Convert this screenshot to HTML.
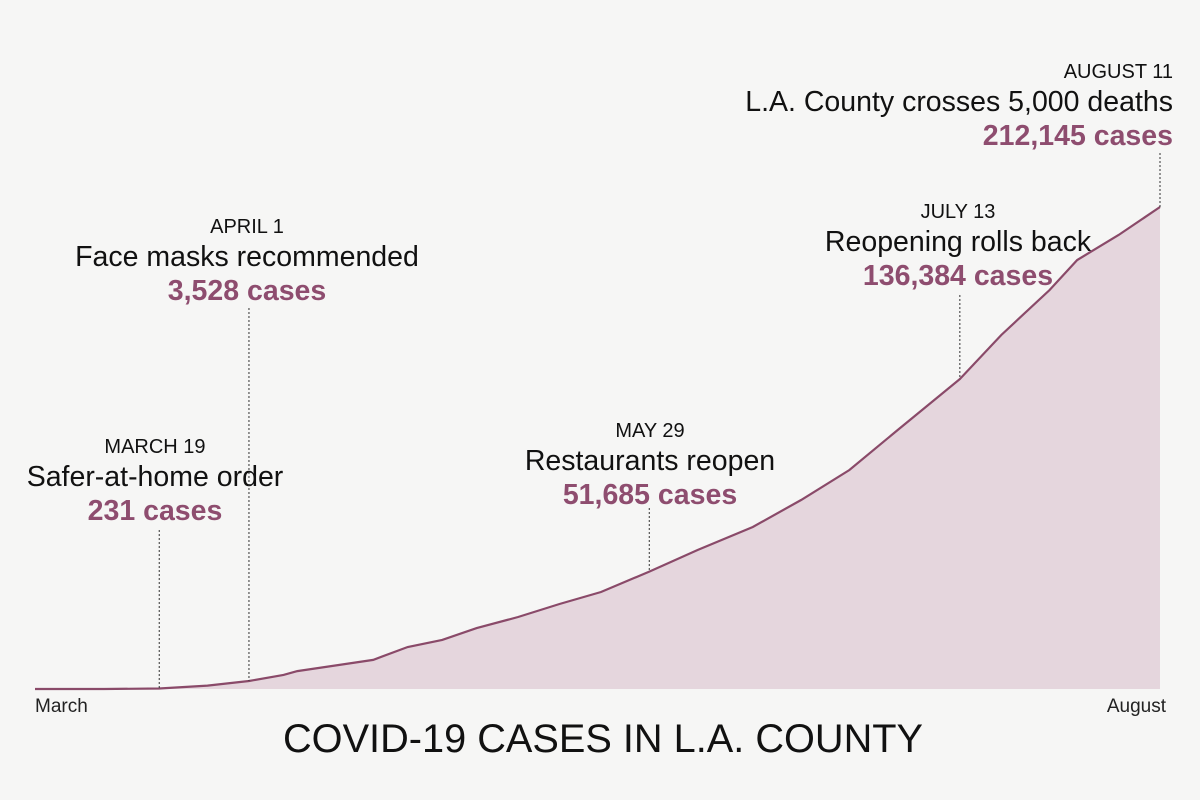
<!DOCTYPE html>
<html><head><meta charset="utf-8"><style>
html,body{margin:0;padding:0;background:#f6f6f5;}
svg{display:block;font-family:"Liberation Sans",sans-serif;}
.d{font-size:20px;fill:#111;}
.e{font-size:28.5px;fill:#111;}
.c{font-size:28.5px;fill:#8e4d6f;font-weight:bold;}
</style></head><body>
<svg id="chart" width="1200" height="800" viewBox="0 0 1200 800">
<rect width="1200" height="800" fill="#f6f6f5"/>
<path id="area" fill="#e5d6dd"/>
<path id="line" fill="none" stroke="#8a4a69" stroke-width="2.2"/>
<g id="ann"></g>
<text x="35" y="712" font-size="19" fill="#222">March</text>
<text x="1166" y="712" font-size="19" fill="#222" text-anchor="end">August</text>
<text x="603" y="752" font-size="40" fill="#111" text-anchor="middle" textLength="640" lengthAdjust="spacingAndGlyphs">COVID-19 CASES IN L.A. COUNTY</text>
</svg>
<script>
const days = [0,10,18,25,31,36,38,44,49,54,59,64,70,76,82,89,96,104,111,118,125,134,140,147,151,157,163];
const cases = [0,20,231,1500,3528,6200,7900,10560,12800,18500,21600,26800,31700,37400,42700,51685,61200,71300,83200,96400,114000,136384,155800,175600,188800,199800,212145];
const eventDays = [18,31,89,134,163];
const eventDates = ["MARCH 19","APRIL 1","MAY 29","JULY 13","AUGUST 11"];
const eventTitles = ["Safer-at-home order","Face masks recommended","Restaurants reopen","Reopening rolls back","L.A. County crosses 5,000 deaths"];
const eventCases = [231,3528,51685,136384,212145];
const eventLabels = ["231 cases","3,528 cases","51,685 cases","136,384 cases","212,145 cases"];

const X0=35,X1=1160,Y0=689,Y1=207,MAXD=163,MAXC=212145;
const xs=d=>X0+(X1-X0)*d/MAXD;
const ys=c=>Y0-(Y0-Y1)*c/MAXC;
let p=days.map((d,i)=>(i?'L':'M')+xs(d).toFixed(1)+','+ys(cases[i]).toFixed(1)).join(' ');
document.getElementById('line').setAttribute('d',p);
document.getElementById('area').setAttribute('d',p+` L${xs(days[days.length-1])},${Y0} L${xs(0)},${Y0} Z`);
function interp(d){for(let i=1;i<days.length;i++){if(d<=days[i]){const t=(d-days[i-1])/(days[i]-days[i-1]);return cases[i-1]+t*(cases[i]-cases[i-1]);}}return cases[cases.length-1];}
const layout=[[155,'middle',453,530],[247,'middle',233,308],[650,'middle',437,508],[958,'middle',218,295],[1173,'end',78,153]];
const ns='http://www.w3.org/2000/svg';
const g=document.getElementById('ann');
eventDays.forEach((d,i)=>{
  const [ax,an,dy,lt]=layout[i];
  const x=xs(d);
  const ln=document.createElementNS(ns,'line');
  ln.setAttribute('x1',x);ln.setAttribute('x2',x);ln.setAttribute('y1',lt);ln.setAttribute('y2',ys(interp(d)));
  ln.setAttribute('stroke','#333');ln.setAttribute('stroke-width','1');ln.setAttribute('stroke-dasharray','2,2');
  
  
  g.appendChild(ln);
  const rows=[[eventDates[i],'d',dy],[eventTitles[i],'e',dy+33],[eventLabels[i],'c',dy+67]];
  rows.forEach(([txt,cls,y])=>{
    const t=document.createElementNS(ns,'text');
    t.setAttribute('x',ax);t.setAttribute('y',y);t.setAttribute('class',cls);
    t.setAttribute('text-anchor',an);t.textContent=txt;
    
    
    g.appendChild(t);
  });
});
</script>
</body></html>
